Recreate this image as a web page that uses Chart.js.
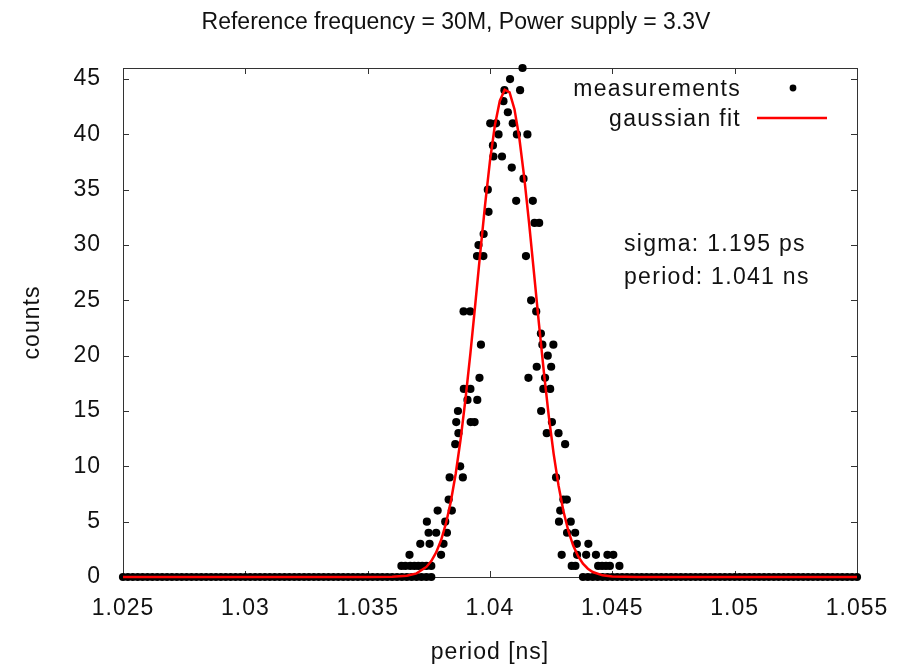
<!DOCTYPE html>
<html>
<head>
<meta charset="utf-8">
<script src="https://cdn.jsdelivr.net/npm/chart.js@4.4.0/dist/chart.umd.min.js"></script>
<style>
  html, body { margin: 0; padding: 0; background: #fff; }
</style>
</head>
<body>
<canvas id="periodChart" width="898" height="667"></canvas>
<script>
const xTicks = [1.025, 1.03, 1.035, 1.04, 1.045, 1.05, 1.055];
const yTicks = [0, 5, 10, 15, 20, 25, 30, 35, 40, 45];

// non-empty histogram bins
const periods = [
  1.03638, 1.03654, 1.03674, 1.03691, 1.03707, 1.03723, 1.0374, 1.0376,
  1.03671, 1.03715, 1.03742, 1.03749, 1.03753, 1.0378, 1.03786, 1.038,
  1.0381, 1.03817, 1.03824, 1.03831, 1.03835, 1.03844, 1.03858, 1.03862,
  1.03869, 1.03871, 1.03878, 1.03889, 1.03892, 1.03893, 1.03908, 1.03919,
  1.0392, 1.03921, 1.03937, 1.03947, 1.03948, 1.03953, 1.03957, 1.03963,
  1.03973, 1.03974, 1.03991, 1.03994, 1.04001, 1.04012, 1.04014, 1.04025,
  1.04035, 1.04049, 1.04055, 1.04059, 1.04073, 1.04082, 1.04089, 1.04093,
  1.04107, 1.0411, 1.04123, 1.04133, 1.04137, 1.04147, 1.04153, 1.04157,
  1.04168, 1.04175, 1.04182, 1.04189, 1.04191, 1.04201, 1.04208, 1.04209,
  1.04214, 1.04218, 1.04225, 1.04232, 1.04236, 1.04246, 1.0425, 1.04253,
  1.04259, 1.0427, 1.0428, 1.04282, 1.04287, 1.04293, 1.043, 1.04307,
  1.04314, 1.04315, 1.0433, 1.04334, 1.04348, 1.04349, 1.04355, 1.04356,
  1.04393, 1.04402, 1.04433, 1.04442, 1.04458, 1.04474, 1.0449, 1.0448,
  1.04504, 1.04529
];
const counts = [
  1, 1, 1, 1, 1, 1, 1, 1,
  2, 3, 5, 4, 3, 4, 6, 2,
  3, 5, 4, 7, 9, 6, 12, 14,
  15, 13, 10, 9, 24, 17, 16, 24,
  17, 14, 14, 29, 16, 30, 18, 21,
  29, 31, 35, 33, 41, 39, 38, 41,
  40, 38, 43, 44, 42, 45, 37, 41,
  34, 40, 44, 46, 36, 29, 40, 18,
  25, 34, 32, 24, 19, 32, 22, 15,
  21, 17, 18, 13, 20, 17, 19, 14,
  21, 9, 13, 5, 6, 2, 7, 12,
  7, 4, 5, 1, 4, 1, 3, 2,
  2, 3, 2, 1, 1, 1, 1, 2,
  2, 1
];

// empty bins (count 0) on both sides of the peak
const emptyPeriods = [
  1.025, 1.0252, 1.0254, 1.0256, 1.0258, 1.026, 1.0262, 1.0264, 1.0266, 1.0268,
  1.027, 1.0272, 1.0274, 1.0276, 1.0278, 1.028, 1.0282, 1.0284, 1.0286, 1.0288,
  1.029, 1.0292, 1.0294, 1.0296, 1.0298, 1.03, 1.0302, 1.0304, 1.0306, 1.0308,
  1.031, 1.0312, 1.0314, 1.0316, 1.0318, 1.032, 1.0322, 1.0324, 1.0326, 1.0328,
  1.033, 1.0332, 1.0334, 1.0336, 1.0338, 1.034, 1.0342, 1.0344, 1.0346, 1.0348,
  1.035, 1.0352, 1.0354, 1.0356, 1.0358, 1.036, 1.0362, 1.0364, 1.0366, 1.0368,
  1.037, 1.0372, 1.0374, 1.0376,
  1.0438, 1.044, 1.0442, 1.0444, 1.0446, 1.0448, 1.045, 1.0452, 1.0454, 1.0456,
  1.0458, 1.046, 1.0462, 1.0464, 1.0466, 1.0468, 1.047, 1.0472, 1.0474, 1.0476,
  1.0478, 1.048, 1.0482, 1.0484, 1.0486, 1.0488, 1.049, 1.0492, 1.0494, 1.0496,
  1.0498, 1.05, 1.0502, 1.0504, 1.0506, 1.0508, 1.051, 1.0512, 1.0514, 1.0516,
  1.0518, 1.052, 1.0522, 1.0524, 1.0526, 1.0528, 1.053, 1.0532, 1.0534, 1.0536,
  1.0538, 1.054, 1.0542, 1.0544, 1.0546, 1.0548, 1.055
];

// gaussian fit curve as drawn
const fitPeriods = [
  1.025, 1.035, 1.036, 1.0366, 1.037, 1.0374, 1.0376, 1.0378, 1.038, 1.0382,
  1.0384, 1.0386, 1.0388, 1.039, 1.0392, 1.0394, 1.0396, 1.0398, 1.04, 1.0402,
  1.0404, 1.0406, 1.0408, 1.041, 1.0412, 1.0414, 1.0416, 1.0418, 1.042, 1.0422,
  1.0424, 1.0426, 1.0428, 1.043, 1.0432, 1.0434, 1.0436, 1.0438, 1.044, 1.0442,
  1.0446, 1.045, 1.046, 1.055
];
const fitCounts = [
  0, 0, 0.02, 0.11, 0.33, 0.91, 1.44, 2.22, 3.32, 4.84,
  6.83, 9.36, 12.46, 16.11, 20.24, 24.69, 29.26, 33.66, 37.62, 40.82,
  43.02, 44.04, 43.79, 42.28, 39.65, 36.1, 31.94, 27.43, 22.89, 18.55,
  14.59, 11.15, 8.28, 5.97, 4.18, 2.84, 1.88, 1.2, 0.75, 0.45,
  0.15, 0.05, 0, 0
];

const FONT = '"Liberation Sans", Arial, sans-serif';
const INK = '#111111';
const FRAME = '#333333';

const measPoints = periods.map((p, i) => ({ x: p, y: counts[i] }))
  .concat(emptyPeriods.map(p => ({ x: p, y: 0 })));
const fitPoints = fitPeriods.map((p, i) => ({ x: p, y: fitCounts[i] }));

// gnuplot style frame, inward ticks, key and labels
const gnuplotLook = {
  id: 'gnuplotLook',
  beforeDraw(chart) {
    // the reference text is set a bit looser than plain Liberation Sans
    chart.ctx.letterSpacing = '1px';
  },
  beforeDatasetsDraw(chart) {
    const { ctx, chartArea: a, scales: { x, y } } = chart;
    ctx.save();
    ctx.strokeStyle = FRAME;
    ctx.lineWidth = 1;
    ctx.strokeRect(a.left + 0.5, a.top + 0.5, a.right - a.left, a.bottom - a.top);
    ctx.beginPath();
    xTicks.forEach(v => {
      const px = Math.round(x.getPixelForValue(v)) + 0.5;
      ctx.moveTo(px, a.bottom); ctx.lineTo(px, a.bottom - 6);
      ctx.moveTo(px, a.top); ctx.lineTo(px, a.top + 6);
    });
    yTicks.forEach(v => {
      const py = Math.round(y.getPixelForValue(v)) + 0.5;
      ctx.moveTo(a.left, py); ctx.lineTo(a.left + 6, py);
      ctx.moveTo(a.right, py); ctx.lineTo(a.right - 6, py);
    });
    ctx.stroke();
    ctx.restore();
  },
  afterDraw(chart) {
    const ctx = chart.ctx;
    ctx.save();
    ctx.fillStyle = INK;
    ctx.font = '23px ' + FONT;
    ctx.textBaseline = 'alphabetic';

    ctx.letterSpacing = '0px';
    ctx.textAlign = 'center';
    ctx.fillText('Reference frequency = 30M, Power supply = 3.3V', 456, 29);

    ctx.letterSpacing = '1.3px';
    ctx.textAlign = 'right';
    ctx.fillText('measurements', 741, 96);
    ctx.fillText('gaussian fit', 741, 126);
    ctx.fillStyle = '#000';
    ctx.beginPath();
    ctx.arc(793, 88, 3.4, 0, Math.PI * 2);
    ctx.fill();
    ctx.strokeStyle = '#ff0000';
    ctx.lineWidth = 2.5;
    ctx.beginPath();
    ctx.moveTo(757, 118); ctx.lineTo(827, 118);
    ctx.stroke();

    ctx.fillStyle = INK;
    ctx.textAlign = 'left';
    ctx.fillText('sigma: 1.195 ps', 624, 251);
    ctx.fillText('period: 1.041 ns', 624, 284);
    ctx.restore();
  }
};

new Chart(document.getElementById('periodChart'), {
  type: 'scatter',
  data: {
    datasets: [
      {
        label: 'gaussian fit',
        data: fitPoints,
        showLine: true,
        borderColor: '#ff0000',
        borderWidth: 2.5,
        pointRadius: 0,
        tension: 0,
        clip: false,
        order: 0
      },
      {
        label: 'measurements',
        data: measPoints,
        backgroundColor: '#000',
        borderWidth: 0,
        pointRadius: 4.1,
        clip: false,
        order: 1
      }
    ]
  },
  options: {
    responsive: false,
    animation: false,
    devicePixelRatio: 1,
    layout: { padding: { top: 68, right: 41, bottom: 0, left: 0 } },
    plugins: {
      legend: { display: false },
      tooltip: { enabled: false }
    },
    scales: {
      x: {
        type: 'linear',
        min: 1.025,
        max: 1.055,
        afterBuildTicks: s => { s.ticks = xTicks.map(v => ({ value: v })); },
        afterFit: s => {
          s.height = 90;
          s.paddingLeft = 0;
          s.paddingRight = 0;
        },
        grid: { display: false, drawTicks: false },
        border: { display: false },
        ticks: {
          callback: v => String(v),
          font: { family: FONT, size: 23 },
          color: INK,
          padding: 18,
          maxRotation: 0,
          autoSkip: false
        },
        title: {
          display: true,
          text: 'period [ns]',
          font: { family: FONT, size: 23 },
          color: INK,
          padding: { top: 0, bottom: 1 }
        }
      },
      y: {
        min: 0,
        max: 46,
        afterBuildTicks: s => { s.ticks = yTicks.map(v => ({ value: v })); },
        afterFit: s => {
          s.width = 123;
          s.paddingTop = 0;
          s.paddingBottom = 0;
        },
        grid: { display: false, drawTicks: false },
        border: { display: false },
        ticks: {
          font: { family: FONT, size: 23 },
          color: INK,
          padding: 22
        },
        title: {
          display: true,
          text: 'counts',
          font: { family: FONT, size: 23 },
          color: INK,
          padding: { top: 19, bottom: 0 }
        }
      }
    }
  },
  plugins: [gnuplotLook]
});
</script>
</body>
</html>
